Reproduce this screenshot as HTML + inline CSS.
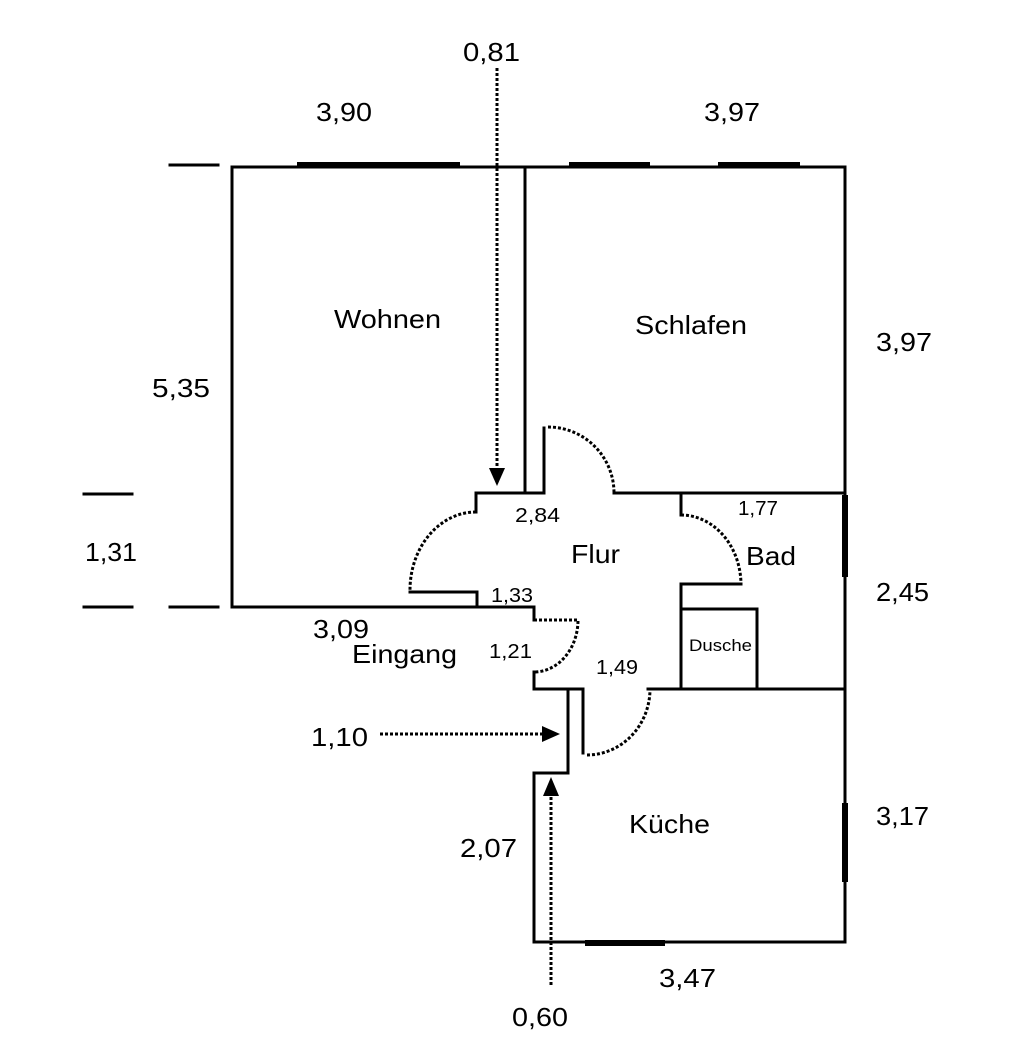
<!DOCTYPE html>
<html><head><meta charset="utf-8"><style>
html,body{margin:0;padding:0;background:#fff;}
svg{display:block}
text{font-family:"Liberation Sans",Arial,sans-serif;fill:#000}
</style></head><body>
<svg width="1024" height="1063" viewBox="0 0 1024 1063" xmlns="http://www.w3.org/2000/svg">
<g stroke="#000" stroke-width="3" fill="none" stroke-linecap="square">
<line x1="232" y1="167" x2="845" y2="167"/>
<line x1="232" y1="167" x2="232" y2="607"/>
<line x1="232" y1="607" x2="534" y2="607"/>
<line x1="845" y1="170" x2="845" y2="942"/>
<line x1="534" y1="942" x2="845" y2="942"/>
<line x1="525" y1="167" x2="525" y2="493"/>
<line x1="544" y1="428" x2="544" y2="493"/>
<line x1="476" y1="493" x2="544" y2="493"/>
<line x1="476" y1="493" x2="476" y2="512"/>
<line x1="614" y1="493" x2="845" y2="493"/>
<line x1="410" y1="592" x2="477" y2="592"/>
<line x1="477" y1="592" x2="477" y2="607"/>
<line x1="534" y1="607" x2="534" y2="620"/>
<line x1="534" y1="672" x2="534" y2="689"/>
<line x1="534" y1="689" x2="583" y2="689"/>
<line x1="568" y1="689" x2="568" y2="773"/>
<line x1="534" y1="773" x2="568" y2="773"/>
<line x1="534" y1="773" x2="534" y2="942"/>
<line x1="583" y1="689" x2="583" y2="753"/>
<line x1="648" y1="689" x2="845" y2="689"/>
<line x1="681" y1="493" x2="681" y2="515"/>
<line x1="681" y1="584" x2="741" y2="584"/>
<line x1="681" y1="584" x2="681" y2="689"/>
<line x1="681" y1="609" x2="757" y2="609"/>
<line x1="757" y1="609" x2="757" y2="689"/>
<line x1="170" y1="165" x2="218" y2="165"/>
<line x1="84" y1="494" x2="132" y2="494"/>
<line x1="84" y1="607" x2="132" y2="607"/>
<line x1="170" y1="607" x2="218" y2="607"/>
</g>
<g stroke="#000" stroke-width="6" fill="none">
<line x1="297" y1="165" x2="460" y2="165"/>
<line x1="569" y1="165" x2="650" y2="165"/>
<line x1="718" y1="165" x2="800" y2="165"/>
<line x1="845" y1="495" x2="845" y2="577"/>
<line x1="845" y1="803" x2="845" y2="882"/>
<line x1="585" y1="943" x2="665" y2="943"/>
</g>
<g stroke="#000" stroke-width="3" fill="none" stroke-dasharray="3 2">
<path d="M548 427 A66 66 0 0 1 614 493"/>
<path d="M476 512 A66 78 0 0 0 410 590"/>
<path d="M681 515 A60 70 0 0 1 741 585"/>
<path d="M534 620 L578 620 A44 52 0 0 1 534 672"/>
<path d="M587 755 A63 66 0 0 0 650 689"/>
<line x1="497" y1="68" x2="497" y2="468"/>
<line x1="380" y1="734" x2="542" y2="734"/>
<line x1="551" y1="985" x2="551" y2="796"/>
</g>
<g fill="#000">
<polygon points="489,468 505,468 497,486"/>
<polygon points="542,726 542,742 560,734"/>
<polygon points="543,796 559,796 551,777"/>
</g>
<g font-size="26" lengthAdjust="spacingAndGlyphs">
<text x="463" y="61" textLength="57" lengthAdjust="spacingAndGlyphs">0,81</text>
<text x="316" y="121" textLength="56" lengthAdjust="spacingAndGlyphs">3,90</text>
<text x="704" y="121" textLength="56" lengthAdjust="spacingAndGlyphs">3,97</text>
<text x="334" y="328" textLength="107" lengthAdjust="spacingAndGlyphs">Wohnen</text>
<text x="635" y="334" textLength="112" lengthAdjust="spacingAndGlyphs">Schlafen</text>
<text x="876" y="351" textLength="56" lengthAdjust="spacingAndGlyphs">3,97</text>
<text x="152" y="397" textLength="58" lengthAdjust="spacingAndGlyphs">5,35</text>
<text x="85" y="561" textLength="52" lengthAdjust="spacingAndGlyphs">1,31</text>
<text x="571" y="563" textLength="49" lengthAdjust="spacingAndGlyphs">Flur</text>
<text x="746" y="565" textLength="50" lengthAdjust="spacingAndGlyphs">Bad</text>
<text x="876" y="601" textLength="53" lengthAdjust="spacingAndGlyphs">2,45</text>
<text x="313" y="638" textLength="56" lengthAdjust="spacingAndGlyphs">3,09</text>
<text x="352" y="663" textLength="105" lengthAdjust="spacingAndGlyphs">Eingang</text>
<text x="311" y="746" textLength="57" lengthAdjust="spacingAndGlyphs">1,10</text>
<text x="629" y="833" textLength="81" lengthAdjust="spacingAndGlyphs">Küche</text>
<text x="876" y="825" textLength="53" lengthAdjust="spacingAndGlyphs">3,17</text>
<text x="460" y="857" textLength="57" lengthAdjust="spacingAndGlyphs">2,07</text>
<text x="659" y="987" textLength="57" lengthAdjust="spacingAndGlyphs">3,47</text>
<text x="512" y="1026" textLength="56" lengthAdjust="spacingAndGlyphs">0,60</text>
</g>
<g font-size="20">
<text x="515" y="522" textLength="45" lengthAdjust="spacingAndGlyphs">2,84</text>
<text x="738" y="515" textLength="40" lengthAdjust="spacingAndGlyphs">1,77</text>
<text x="491" y="602" textLength="42" lengthAdjust="spacingAndGlyphs">1,33</text>
<text x="489" y="658" textLength="43" lengthAdjust="spacingAndGlyphs">1,21</text>
<text x="596" y="674" textLength="42" lengthAdjust="spacingAndGlyphs">1,49</text>
</g>
<text x="689" y="651" font-size="17" textLength="63" lengthAdjust="spacingAndGlyphs">Dusche</text>
</svg>
</body></html>
